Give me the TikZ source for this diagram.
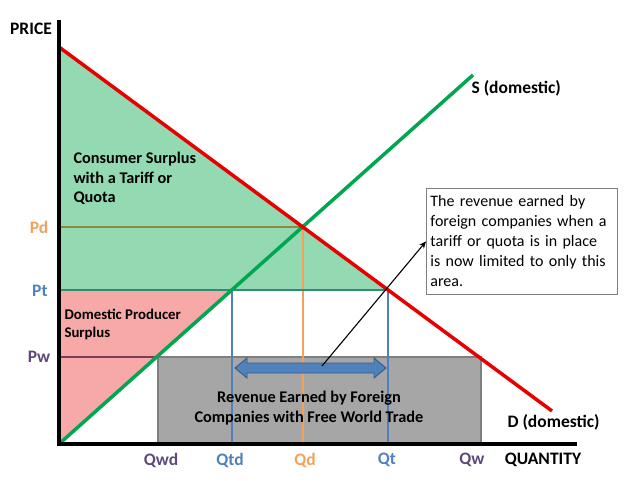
\documentclass[tikz,border=0pt]{standalone}
\usepackage{fontspec}
\setmainfont{Carlito}
\usetikzlibrary{arrows.meta}

\definecolor{csgreen}{HTML}{93DAB3}
\definecolor{pspink}{HTML}{F7A9A8}
\definecolor{revgrey}{HTML}{A6A6A6}
\definecolor{revedge}{HTML}{7F7F7F}
\definecolor{dred}{HTML}{E60000}
\definecolor{sgreen}{HTML}{00A650}
\definecolor{qorange}{HTML}{F3A15A}
\definecolor{pdolive}{HTML}{8C8A3C}
\definecolor{ptteal}{HTML}{2F8A76}
\definecolor{pwmaroon}{HTML}{7B3B5A}
\definecolor{qblue}{HTML}{4F81BD}
\definecolor{qpurple}{HTML}{5F497A}

\tikzset{
  axislabel/.style={font=\fontsize{17.5}{20}\selectfont\bfseries},
  pricelabel/.style={font=\fontsize{17.5}{20}\selectfont\bfseries, anchor=center},
  arealabel/.style={font=\fontsize{16.3}{19.5}\selectfont\bfseries, align=left, anchor=north west},
}

\begin{document}
\begin{tikzpicture}[x=1pt, y=-1pt]
    \useasboundingbox (0,0) rectangle (624,481);

    % points of the diagram
    \coordinate (O)    at ( 59,444);
    \coordinate (Ytop) at ( 59, 20);
    \coordinate (Xend) at (577,444);
    \coordinate (Dtop) at ( 59, 47);
    \coordinate (Dend) at (552,411);
    \coordinate (Send) at (473, 75);
    \coordinate (E)    at (303,227);
    \coordinate (Pd)   at ( 59,227);
    \coordinate (Pt)   at ( 59,290);
    \coordinate (Pw)   at ( 59,357);
    \coordinate (Td)   at (232,290);
    \coordinate (Tt)   at (388,290);
    \coordinate (Wd)   at (158,357);
    \coordinate (Ww)   at (481,357);

    % areas
    \fill[csgreen] (Dtop) -- (Tt) -- (Pt) -- cycle;
    \fill[pspink] (Pt) -- (Td) -- (O) -- cycle;
    \filldraw[fill=revgrey, draw=revedge, line width=1.8pt] (Wd) rectangle (Ww |- O);

    % price and quantity lines
    \draw[pdolive, line width=1.6pt] (Pd) -- (E);
    \draw[qorange, line width=1.6pt] (E) -- (E |- O);
    \draw[ptteal, line width=1.6pt] (Pt) -- (Tt);
    \draw[pwmaroon, line width=1.6pt] (Pw) -- (Wd);
    \draw[qblue, line width=1.6pt] (Td) -- (Td |- O);
    \draw[qblue, line width=1.6pt] (Tt) -- (Tt |- O);

    % curves
    \draw[sgreen, line width=3.5pt] (O) -- (Send);
    \draw[dred, line width=3.5pt] (Dtop) -- (Dend);

    % axes
    \draw[black, line width=3.5pt] (Ytop) -- (O) -- (Xend);

    % area texts
    \node[arealabel] (cs) at (70,149) {Consumer Surplus\\with a Tariff or\\Quota};
    \node[arealabel, font=\fontsize{14.8}{17.5}\selectfont\bfseries] (ps) at (61,306) {Domestic Producer\\Surplus};
    \node[font=\fontsize{16.3}{19.5}\selectfont\bfseries, align=center] (rev) at (309,408)
        {Revenue Earned by Foreign\\Companies with Free World Trade};

    % blue arrow
    \filldraw[fill=qblue, draw=qblue!70!black, line width=0.9pt]
        (235,368) -- (247,358) -- (247,363) -- (374,363) -- (374,358) -- (386,368)
        -- (374,378) -- (374,373) -- (247,373) -- (247,378) -- cycle;

    % note
    \node[draw=revedge, line width=0.9pt, fill=white, anchor=north west,
          text width=183pt, minimum width=191pt, minimum height=106pt,
          inner xsep=4pt, align=left,
          font=\fontsize{16}{20}\selectfont] (note) at (426,188)
        {The revenue earned by\\foreign companies when a\\tariff or quota is in place\\is now limited to only this\\area.};
    \coordinate (tail) at (322,366);
    \draw[-{Stealth[length=7pt,width=6pt]}, line width=1.1pt] (tail) -- (note.west);

    % curve and axis labels
    \node[axislabel] (price) at (31,29) {PRICE};
    \node[axislabel] (qty) at (543,460) {QUANTITY};
    \node[axislabel, anchor=west] (sdom) at (468,88) {S (domestic)};
    \node[axislabel, anchor=west] (ddom) at (504,422) {D (domestic)};

    % price labels
    \node[pricelabel, text=qorange] (pdl) at (39,227) {Pd};
    \node[pricelabel, text=qblue] (ptl) at (40,291) {Pt};
    \node[pricelabel, text=qpurple] (pwl) at (39,357) {Pw};

    % quantity labels
    \node[pricelabel, text=qpurple] (qwdl) at (161,460) {Qwd};
    \node[pricelabel, text=qblue] (qtdl) at (230,460) {Qtd};
    \node[pricelabel, text=qorange] (qdl) at (305,460) {Qd};
    \node[pricelabel, text=qblue] (qtl) at (387,460) {Qt};
    \node[pricelabel, text=qpurple] (qwl) at (472,460) {Qw};
\end{tikzpicture}
\end{document}
